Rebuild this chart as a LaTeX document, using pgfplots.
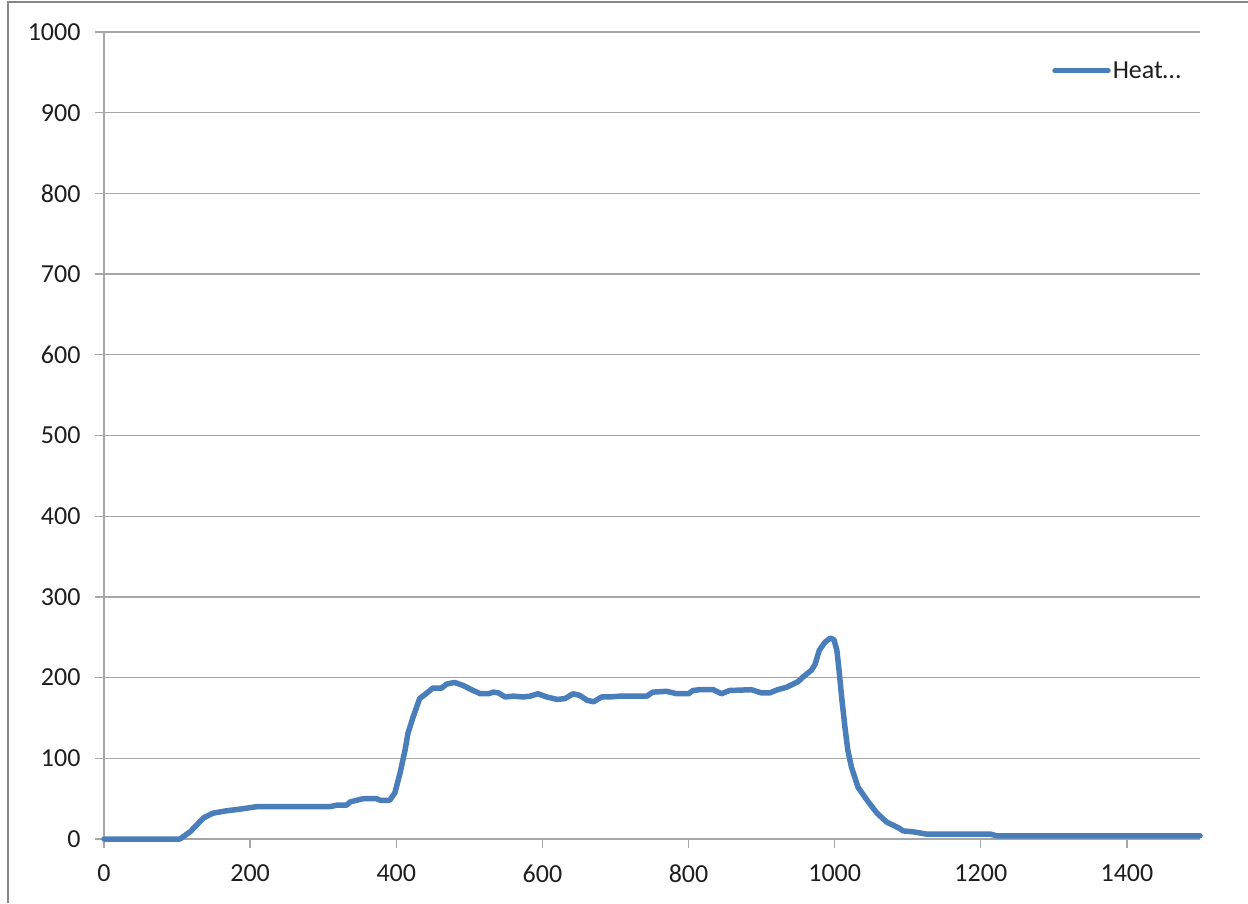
\documentclass[border=0pt]{standalone}
\usepackage{fontspec}
\setmainfont{Carlito}
\usepackage{pgfplots}
\pgfplotsset{compat=1.18}
\definecolor{serieblue}{RGB}{74,126,187}
\definecolor{gridgray}{RGB}{166,166,166}
\definecolor{bordergray}{RGB}{134,134,134}
\definecolor{labelblack}{RGB}{30,30,30}
\begin{document}
\begin{tikzpicture}[x=1pt,y=1pt]
\useasboundingbox (0,0) rectangle (1248,903);
\draw[bordergray, line width=2pt] (7.5,0) -- (7.5,901) -- (1248,901);
\begin{axis}[
  at={(104pt,64pt)}, anchor=south west,
  width=1096pt, height=807pt, scale only axis,
  xmin=0, xmax=1500, ymin=0, ymax=1000,
  xtick={0,200,...,1400}, ytick={0,100,...,1000},
  axis lines=left,
  axis line style={-, draw=gridgray, line width=1.3pt},
  ymajorgrids,
  grid style={draw=gridgray, line width=1.3pt},
  tick align=outside,
  major tick length=9pt,
  tick style={draw=gridgray, line width=1.3pt},
  ticklabel style={font=\fontsize{26}{30}\selectfont, text=labelblack},
  yticklabel style={xshift=-11pt},
  xticklabel style={yshift=-13pt},
  /pgf/number format/assume math mode=true,
  /pgf/number format/1000 sep={},
  clip=false,
  legend style={at={(rel axis cs:0.865,0.952)}, anchor=west, draw=none, fill=none,
    inner sep=0pt, font=\fontsize{26}{30}\selectfont, text=labelblack,
    nodes={inner sep=2pt}},
  legend image code/.code={\draw[#1, line width=5.5pt, line cap=round] (0pt,0pt) -- (53pt,0pt);},
]
\addplot[serieblue, line width=5.5pt, line join=round, line cap=round] coordinates {
(0,0)(100,0)(104,0)(118,9)(136,26)(149,32)(168,35)(186,37)(209,40)(309,40)(319,42)(332,42)(337,46)(355,50)(373,50)(378,48)(391,48)(398,57)(405,81)(412,110)(416,131)(423,151)(432,174)(442,181)(450,187)(462,187)(469,192)(480,194)(492,190)(503,185)(515,180)(526,180)(533,182)(540,181)(549,176)(560,177)(574,176)(583,177)(594,180)(606,176)(620,173)(631,174)(642,180)(651,178)(661,172)(670,170)(681,176)(692,176)(706,177)(743,177)(751,182)(770,183)(784,180)(800,180)(806,184)(815,185)(834,185)(845,180)(856,184)(886,185)(900,181)(911,181)(922,185)(934,188)(950,195)(957,201)(968,209)(973,216)(979,234)(987,244)(994,249)(999,247)(1003,234)(1006,209)(1010,172)(1014,139)(1018,110)(1023,89)(1032,64)(1046,46)(1058,32)(1071,21)(1087,14)(1094,10)(1107,9)(1126,6)(1213,6)(1222,4)(1500,4)
};
\addlegendentry{Heat…}
\end{axis}
\end{tikzpicture}
\end{document}
